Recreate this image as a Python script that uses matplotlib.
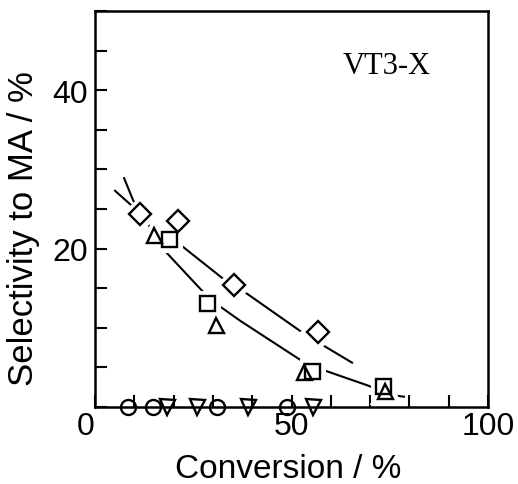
import numpy as np
import matplotlib
matplotlib.use("Agg")
import matplotlib.pyplot as plt

# Selectivity to MA versus conversion, catalyst VT3-X
diamond_x = [11.5, 21.1, 35.4, 56.7]
diamond_y = [24.4, 23.5, 15.4, 9.5]
square_x = [18.8, 28.5, 55.2, 73.3]
square_y = [21.2, 13.1, 4.6, 2.7]
triangle_x = [15.0, 30.8, 53.2, 73.8]
triangle_y = [21.7, 10.4, 4.4, 2.0]
circle_x = [8.4, 14.8, 31.0, 48.9]
circle_y = [0, 0, 0, 0]
tri_down_x = [18.3, 26.0, 38.9, 55.5]
tri_down_y = [0, 0, 0, 0]

# hand-drawn trend curves
upper_curve_x = [5.1, 9.4, 23.2, 33.1, 38.7, 52.2, 59.0, 65.4]
upper_curve_y = [27.3, 25.4, 19.9, 16.0, 14.3, 9.6, 7.5, 5.6]
lower_curve_x = [7.4, 9.7, 17.8, 27.2, 31.8, 36.9, 52.7, 58.5, 69.5, 75.6, 78.6]
lower_curve_y = [28.9, 26.1, 19.7, 14.7, 12.7, 10.9, 5.8, 4.6, 2.7, 1.5, 1.3]

x_major = [0, 50, 100]
y_major = [20, 40]

sans = "Liberation Sans"
serif = "Liberation Serif"

fig = plt.figure(figsize=(5.18, 4.85), dpi=100)
ax = fig.add_axes([95 / 518, 1 - 408 / 485, 393 / 518, 396 / 485])
ax.set_xlim(0, 100)
ax.set_ylim(0, 50)

ax.plot(upper_curve_x, upper_curve_y, color="black", lw=1.5, zorder=2)
ax.plot(lower_curve_x, lower_curve_y, color="black", lw=1.5, zorder=2)

series = [
    (diamond_x, diamond_y, "D", 11.0, True),
    (square_x, square_y, "s", 10.8, True),
    (triangle_x, triangle_y, "^", 10.8, True),
    (circle_x, circle_y, "o", 10.8, False),
    (tri_down_x, tri_down_y, "v", 10.8, False),
]
for xs, ys, m, ms, halo in series:
    if halo:
        # white outline opens a small gap in the curves around each marker
        ax.plot(xs, ys, ls="none", marker=m, ms=ms, mfc="white", mec="white",
                mew=8, zorder=3, clip_on=False)
    ax.plot(xs, ys, ls="none", marker=m, ms=ms, mfc="none", mec="black",
            mew=1.7, zorder=5, clip_on=False)

ax.text(63.1, 42.2, "VT3-X", fontfamily=serif, fontsize=22,
        ha="left", va="baseline")

ax.set_xticks(x_major)
ax.set_xticks(np.arange(0, 101, 10), minor=True)
ax.set_yticks(y_major)
ax.set_yticks(np.arange(0, 51, 5), minor=True)
ax.tick_params(which="both", direction="in", length=8.5, width=1.5)
ax.tick_params(axis="x", which="major", pad=3)
ax.tick_params(axis="y", which="major", pad=5)
for lab in ax.get_xticklabels() + ax.get_yticklabels():
    lab.set_fontfamily(sans)
    lab.set_fontsize(23)
ax.get_xticklabels()[0].set_horizontalalignment("right")

for sp in ax.spines.values():
    sp.set_linewidth(1.8)

ax.set_xlabel("Conversion / %", fontfamily=sans, fontsize=24, va="baseline")
ax.xaxis.set_label_coords(0.491, -0.177)
ax.set_ylabel("Selectivity to MA / %", fontfamily=sans, fontsize=25, va="baseline")
ax.yaxis.set_label_coords(-0.158, 0.452)

fig.savefig("out.png", dpi=100)
